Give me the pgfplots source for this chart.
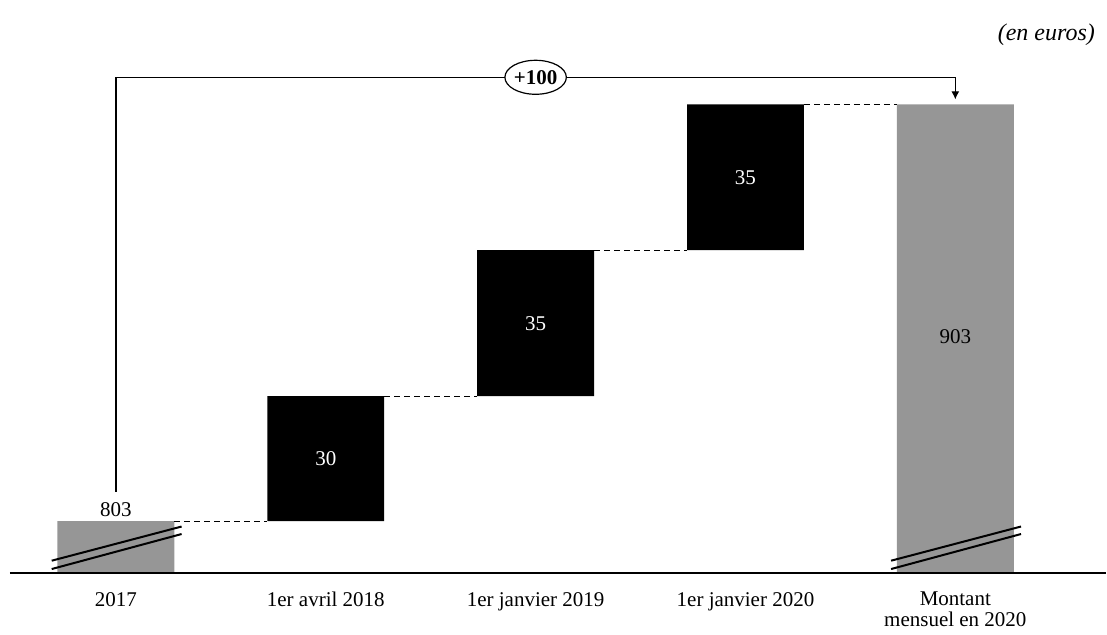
\documentclass[border=0pt]{standalone}
\usepackage{fontspec}
\setmainfont{Liberation Serif}
\usepackage{pgfplots}
\pgfplotsset{compat=1.18}
\usetikzlibrary{shapes.geometric,arrows.meta}
\definecolor{bargray}{RGB}{150,150,150}
\begin{document}
\fontsize{10.5}{10.5}\selectfont
\begin{tikzpicture}
\begin{axis}[
  set layers=standard,
  scale only axis, width=553.5pt, height=286.5pt,
  xmin=-0.5524, xmax=4.719, ymin=790.6, ymax=928,
  ybar stacked, bar width=0.557,
  axis line style={draw=none}, ytick=\empty,
  xtick={0,1,2,3,4},
  xticklabels={2017,1er avril 2018,1er janvier 2019,1er janvier 2020,{Montant\\mensuel en 2020}},
  xticklabel style={align=center, anchor=north, yshift=-6pt, font=\fontsize{10.5}{10.5}\selectfont},
  major tick length=0pt,
  clip mode=individual,
]
% invisible base
\addplot[on layer=axis background, draw=none, fill=none] coordinates {(0,0) (1,803) (2,833) (3,868) (4,0)};
% grey totals
\addplot[on layer=axis background, draw=none, fill=bargray] coordinates {(0,803) (1,0) (2,0) (3,0) (4,903)};
% black increments
\addplot[on layer=axis background, draw=none, fill=black] coordinates {(0,0) (1,30) (2,35) (3,35) (4,0)};

% baseline
\draw[line width=0.8pt] (axis cs:-0.505,790.6) -- (axis cs:4.719,790.6);
% connectors
\draw[line width=0.4pt, dash pattern=on 3pt off 2pt] (axis cs:0.279,803) -- (axis cs:0.721,803);
\draw[line width=0.4pt, dash pattern=on 3pt off 2pt] (axis cs:1.279,833) -- (axis cs:1.721,833);
\draw[line width=0.4pt, dash pattern=on 3pt off 2pt] (axis cs:2.279,868) -- (axis cs:2.721,868);
\draw[line width=0.4pt, dash pattern=on 3pt off 2pt] (axis cs:3.279,903) -- (axis cs:3.721,903);
% break marks
\draw[line width=1pt] (axis cs:-0.306,793.5) -- (axis cs:0.313,801.7);
\draw[line width=1pt] (axis cs:-0.306,791.5) -- (axis cs:0.313,799.9);
\draw[line width=1pt] (axis cs:3.694,793.5) -- (axis cs:4.313,801.7);
\draw[line width=1pt] (axis cs:3.694,791.5) -- (axis cs:4.313,799.9);
% bracket
\draw[line width=0.6pt] (axis cs:0,810) -- (axis cs:0,909.5) -- (axis cs:1.855,909.5);
\draw[line width=0.6pt, -{Latex[length=4pt,width=4pt]}] (axis cs:2.145,909.5) -- (axis cs:4,909.5) -- (axis cs:4,904.2);
\node[draw, ellipse, line width=0.6pt, inner sep=0pt, minimum width=30pt, minimum height=17pt] at (axis cs:2,909.5) {\textbf{+100}};

% value labels
\node[anchor=south, inner sep=2pt] at (axis cs:0,803) {803};
\node[text=white] at (axis cs:1,818) {30};
\node[text=white] at (axis cs:2,850.5) {35};
\node[text=white] at (axis cs:3,885.5) {35};
\node at (axis cs:4,847.2) {903};
% units
\node[anchor=east, font=\itshape\fontsize{12}{13}\selectfont] at (axis cs:4.700,919.6) {(en euros)};
\end{axis}
\end{tikzpicture}
\end{document}
